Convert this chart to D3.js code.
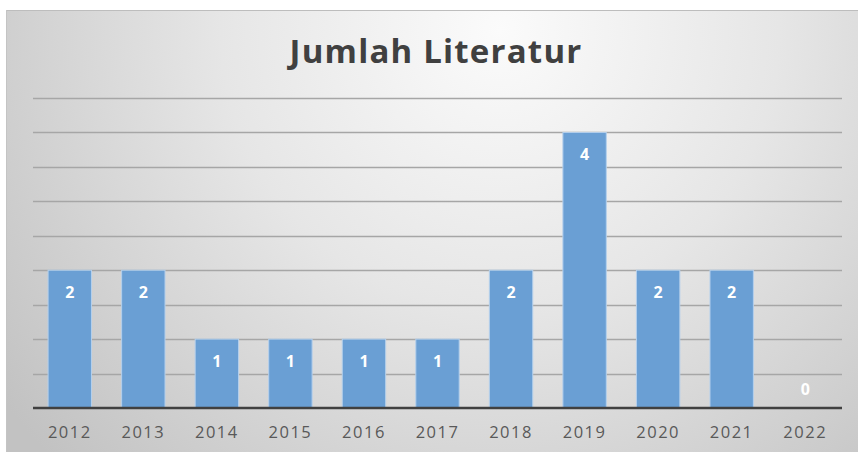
<!DOCTYPE html>
<html>
<head>
<meta charset="utf-8">
<script src="https://cdn.jsdelivr.net/npm/d3@7"></script>
<style>
  body { margin: 0; background: #fff; }
  svg { display: block; }
</style>
</head>
<body>
<svg id="chart"></svg>
<script>
// data
const years = ['2012', '2013', '2014', '2015', '2016', '2017', '2018', '2019', '2020', '2021', '2022'];
const counts = [2, 2, 1, 1, 1, 1, 2, 4, 2, 2, 0];
const gridTicks = [0.5, 1, 1.5, 2, 2.5, 3, 3.5, 4, 4.5];

let w = 858;
let h = 452;

let svg = d3.select('#chart')
  .attr('width', w)
  .attr('height', h);

// radial grey background like the office chart style
let defs = svg.append('defs');
let grad = defs.append('radialGradient')
  .attr('id', 'bg')
  .attr('gradientUnits', 'userSpaceOnUse')
  .attr('cx', 500).attr('cy', 30).attr('r', 620);
grad.append('stop').attr('offset', '0%').attr('stop-color', '#fbfbfb');
grad.append('stop').attr('offset', '45%').attr('stop-color', '#e6e6e6');
grad.append('stop').attr('offset', '100%').attr('stop-color', '#c2c2c2');

svg.append('rect')
  .attr('x', 6).attr('y', 10)
  .attr('width', w - 6).attr('height', h - 10)
  .attr('fill', 'url(#bg)');
svg.append('line')
  .attr('x1', 6).attr('x2', w).attr('y1', 10.5).attr('y2', 10.5)
  .attr('stroke', '#bdbdbd');
svg.append('line')
  .attr('x1', 6.5).attr('x2', 6.5).attr('y1', 10).attr('y2', h)
  .attr('stroke', '#c4c4c4');

let xScale = d3.scaleBand()
  .domain(years)
  .range([33, 842])
  .paddingInner(0.41)
  .paddingOuter(0.205);

let yScale = d3.scaleLinear()
  .domain([0, 4.5])
  .range([408, 98]);

// gridlines
svg.selectAll('.grid')
  .data(gridTicks)
  .enter()
  .append('line')
  .attr('class', 'grid')
  .attr('x1', 33).attr('x2', 842)
  .attr('y1', (d) => Math.round(yScale(d)) + 0.5)
  .attr('y2', (d) => Math.round(yScale(d)) + 0.5)
  .attr('stroke', '#a6a6a6')
  .attr('stroke-width', 1.5);

// bars
svg.selectAll('rect.bar')
  .data(counts)
  .enter()
  .append('rect')
  .attr('class', 'bar')
  .attr('x', (d, i) => xScale(years[i]))
  .attr('y', (d) => yScale(d))
  .attr('width', xScale.bandwidth())
  .attr('height', (d) => yScale(0) - yScale(d))
  .attr('fill', '#6a9fd4')
  .attr('stroke', '#b5d0ec')
  .attr('stroke-width', 1);

// value labels
svg.selectAll('text.val')
  .data(counts)
  .enter()
  .append('text')
  .attr('class', 'val')
  .attr('x', (d, i) => xScale(years[i]) + xScale.bandwidth() / 2)
  .attr('y', (d) => d > 0 ? yScale(d) + 28 : yScale(0) - 13)
  .attr('text-anchor', 'middle')
  .style('font-family', '"Open Sans", sans-serif')
  .style('font-weight', 'bold')
  .style('font-size', '16px')
  .style('fill', '#ffffff')
  .text((d) => d);

// baseline + x axis
let xAxis = d3.axisBottom(xScale).tickSize(0).tickPadding(18);
let gx = svg.append('g')
  .attr('transform', `translate(0, ${yScale(0)})`)
  .call(xAxis);
gx.select('.domain').remove();
gx.selectAll('text')
  .style('font-family', '"Open Sans", sans-serif')
  .style('font-size', '16.5px')
  .style('letter-spacing', '1.5px')
  .style('fill', '#595959');

svg.append('line')
  .attr('x1', 33).attr('x2', 842)
  .attr('y1', yScale(0)).attr('y2', yScale(0))
  .attr('stroke', '#404040')
  .attr('stroke-width', 2.5);

// title
svg.append('text')
  .attr('x', 436)
  .attr('y', 63)
  .attr('text-anchor', 'middle')
  .style('font-family', '"Open Sans", sans-serif')
  .style('font-weight', 'bold')
  .style('font-size', '33px')
  .style('letter-spacing', '1.2px')
  .style('fill', '#404040')
  .text('Jumlah Literatur');
</script>
</body>
</html>
